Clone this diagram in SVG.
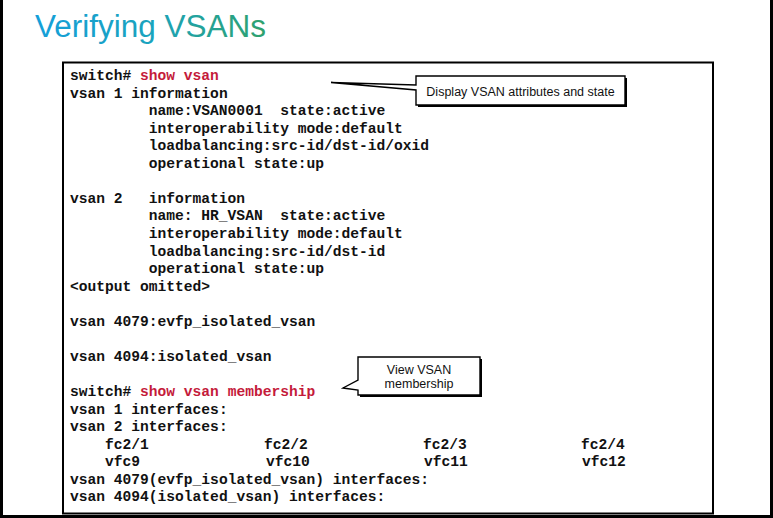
<svg xmlns="http://www.w3.org/2000/svg" width="773" height="518" viewBox="0 0 773 518">
<defs>
<linearGradient id="tg" x1="35" y1="0" x2="266" y2="0" gradientUnits="userSpaceOnUse">
<stop offset="0" stop-color="#159fd9"/>
<stop offset="0.5" stop-color="#1ba3bd"/>
<stop offset="1" stop-color="#2fa16d"/>
</linearGradient>
</defs>
<style>
.mono{font-family:"Liberation Mono","Courier New",monospace;font-size:14.6px;font-weight:bold;fill:#111}
.red{fill:#c41a3a}
.call{font-family:"Liberation Sans",Arial,sans-serif;font-size:12.5px;fill:#111}
.box{fill:#fff;stroke:#000;stroke-width:1.4;stroke-linejoin:miter}
.shadow{fill:#000}
</style>
<rect x="0" y="0" width="773" height="518" fill="#fff"/>
<rect id="frame" x="1.5" y="-10" width="770" height="526.5" fill="none" stroke="#000" stroke-width="3"/>
<g id="title">
<text x="35" y="37" font-family="'Liberation Sans',Arial,sans-serif" font-size="31" fill="url(#tg)" textLength="231" lengthAdjust="spacingAndGlyphs">Verifying VSANs</text>
</g>
<g id="terminal">
<rect x="63" y="62.5" width="650" height="451" fill="#fff" stroke="#000" stroke-width="2"/>
<text class="mono" x="70" y="80">switch# <tspan class="red">show vsan</tspan></text>
<text class="mono" x="70" y="97.5">vsan 1 information</text>
<text class="mono" x="148.8" y="115.1">name:VSAN0001<tspan x="280.2">state:active</tspan></text>
<text class="mono" x="148.8" y="132.7">interoperability mode:default</text>
<text class="mono" x="148.8" y="150.2">loadbalancing:src-id/dst-id/oxid</text>
<text class="mono" x="148.8" y="167.8">operational state:up</text>
<text class="mono" x="70" y="202.9">vsan 2<tspan x="148.8">information</tspan></text>
<text class="mono" x="148.8" y="220.4">name: HR_VSAN<tspan x="280.2">state:active</tspan></text>
<text class="mono" x="148.8" y="238">interoperability mode:default</text>
<text class="mono" x="148.8" y="255.5">loadbalancing:src-id/dst-id</text>
<text class="mono" x="148.8" y="273.1">operational state:up</text>
<text class="mono" x="70" y="290.6">&lt;output omitted&gt;</text>
<text class="mono" x="70" y="325.7">vsan 4079:evfp_isolated_vsan</text>
<text class="mono" x="70" y="360.8">vsan 4094:isolated_vsan</text>
<text class="mono" x="70" y="395.9">switch# <tspan class="red">show vsan membership</tspan></text>
<text class="mono" x="70" y="413.5">vsan 1 interfaces:</text>
<text class="mono" x="70" y="431">vsan 2 interfaces:</text>
<text class="mono" x="105" y="448.6">fc2/1</text>
<text class="mono" x="264" y="448.6">fc2/2</text>
<text class="mono" x="423" y="448.6">fc2/3</text>
<text class="mono" x="581" y="448.6">fc2/4</text>
<text class="mono" x="105" y="466.1">vfc9</text>
<text class="mono" x="266" y="466.1">vfc10</text>
<text class="mono" x="424" y="466.1">vfc11</text>
<text class="mono" x="582" y="466.1">vfc12</text>
<text class="mono" x="70" y="483.7">vsan 4079(evfp_isolated_vsan) interfaces:</text>
<text class="mono" x="70" y="501.2">vsan 4094(isolated_vsan) interfaces:</text>
</g>
<g id="connectors"></g>
<g id="callout1">
<rect class="shadow" x="418" y="78" width="209" height="29"/>
<path class="box" d="M416,76 H625 V105 H416 V90 L331,82.5 L416,85 Z"/>
<text class="call" x="520.5" y="95.5" text-anchor="middle">Display VSAN attributes and state</text>
</g>
<g id="callout2">
<rect class="shadow" x="360" y="359" width="122" height="38"/>
<path class="box" d="M358,357 H480 V395 H358 V390 L343,388 L358,380 Z"/>
<text class="call" x="419" y="373.7" text-anchor="middle">View VSAN</text>
<text class="call" x="419" y="388" text-anchor="middle">membership</text>
</g>
</svg>
